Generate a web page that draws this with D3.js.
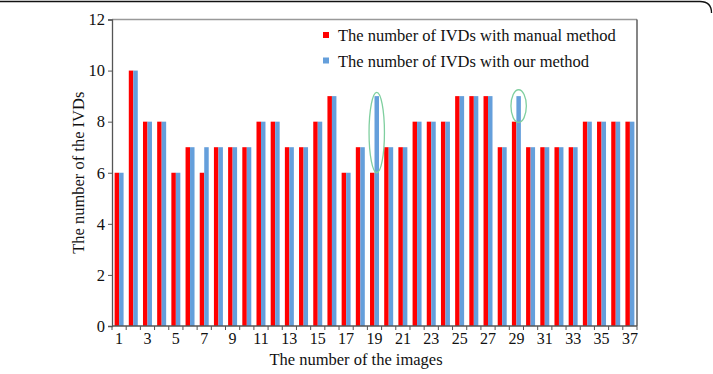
<!DOCTYPE html>
<html>
<head>
<meta charset="utf-8">
<script src="https://cdn.jsdelivr.net/npm/d3@7/dist/d3.min.js"></script>
<style>
html,body{margin:0;padding:0;background:#fff;}
svg{display:block;}
text{font-family:"Liberation Serif","Times New Roman",serif;fill:#111;}
</style>
</head>
<body>
<svg id="chart" width="713" height="374"></svg>
<script>
const categories = d3.range(1, 38);
const manualValues = [6,10,8,8,6,7,6,7,7,7,8,8,7,7,8,9,6,7,6,7,7,8,8,8,9,9,9,7,8,7,7,7,7,8,8,8,8];
const ourValues    = [6,10,8,8,6,7,7,7,7,7,8,8,7,7,8,9,6,7,9,7,7,8,8,8,9,9,9,7,9,7,7,7,7,8,8,8,8];
const seriesNames = ["The number of IVDs with manual method", "The number of IVDs with our method"];
const seriesColors = ["#ff0000", "#659fdb"];
const yTicks = [0,2,4,6,8,10,12];
const xTickLabels = categories.filter(d => d % 2 === 1);
const highlighted = [{cat:19, lo:6, hi:9.15}, {cat:29, lo:7.97, hi:9.25}];

const svg = d3.select("#chart");
const L = 112, R = 637, T = 19.5, B = 326;
const FS = "16.5px";

// outer frame (rounded top-right corner)
svg.append("path")
  .attr("d", `M0,1.5 H700 Q711.5,1.5 711.5,13`)
  .attr("fill","none").attr("stroke","#111").attr("stroke-width",1.3);

const x = d3.scaleBand().domain(categories).range([L, R]).padding(0);
const xi = d3.scaleBand().domain([0,1]).range([0, x.bandwidth()]).paddingInner(0).paddingOuter(0.58);
const y = d3.scaleLinear().domain([0, 12]).range([B, T]);

// plot border top/right
svg.append("line").attr("x1",L).attr("x2",R).attr("y1",T).attr("y2",T).attr("stroke","#999").attr("stroke-width",1.3);
svg.append("line").attr("x1",R).attr("x2",R).attr("y1",T).attr("y2",B).attr("stroke","#444").attr("stroke-width",1.3);

// bars
const series = [manualValues, ourValues];
series.forEach((vals, s) => {
  svg.append("g").selectAll("rect").data(categories).join("rect")
    .attr("x", d => x(d) + xi(s))
    .attr("width", xi.bandwidth())
    .attr("y", (d,i) => y(vals[i]))
    .attr("height", (d,i) => B - y(vals[i]))
    .attr("fill", seriesColors[s]);
});

// highlight ellipses
svg.append("g").selectAll("ellipse").data(highlighted).join("ellipse")
  .attr("cx", d => x(d.cat) + xi(1) + xi.bandwidth()/2)
  .attr("cy", d => (y(d.lo) + y(d.hi))/2)
  .attr("rx", 7.7)
  .attr("ry", d => (y(d.lo) - y(d.hi))/2)
  .attr("fill","none").attr("stroke","#7fcf9f").attr("stroke-width",1.3);

// y axis
const yAxis = svg.append("g").attr("transform",`translate(${L},0)`)
  .call(d3.axisLeft(y).tickValues(yTicks).tickSize(4).tickPadding(3).tickFormat(d3.format("d")));
yAxis.select(".domain").attr("stroke","#555").attr("stroke-width",1.3);
yAxis.selectAll(".tick line").attr("stroke","#555");
yAxis.selectAll("text").style("font-size",FS).style("font-family","Liberation Serif").attr("fill","#111");

// x axis: boundary ticks
const bounds = categories.map(d => x(d)).concat([R]);
svg.append("g").selectAll("line").data(bounds).join("line")
  .attr("x1", d => d).attr("x2", d => d).attr("y1", B).attr("y2", B+4)
  .attr("stroke","#555");
svg.append("line").attr("x1",L).attr("x2",R).attr("y1",B).attr("y2",B).attr("stroke","#555").attr("stroke-width",1.3);
const xAxis = svg.append("g").attr("transform",`translate(0,${B})`)
  .call(d3.axisBottom(x).tickValues(xTickLabels).tickSize(0).tickPadding(7));
xAxis.select(".domain").remove();
xAxis.selectAll("text").style("font-size","16px").style("font-family","Liberation Serif").attr("fill","#111");

// axis titles
svg.append("text").attr("transform",`translate(84,${(T+B)/2}) rotate(-90)`)
  .attr("text-anchor","middle").style("font-size",FS).text("The number of the IVDs");
svg.append("text").attr("x",356).attr("y",364.5)
  .attr("text-anchor","middle").style("font-size",FS).text("The number of the images");

// legend
const lg = svg.append("g").selectAll("g").data(seriesNames).join("g")
  .attr("transform",(d,i)=>`translate(323,${32 + i*25.5})`);
lg.append("rect").attr("width",6).attr("height",6).attr("fill",(d,i)=>seriesColors[i]);
lg.append("text").attr("x",15).attr("y",9).style("font-size",FS).text(d=>d);
</script>
</body>
</html>
